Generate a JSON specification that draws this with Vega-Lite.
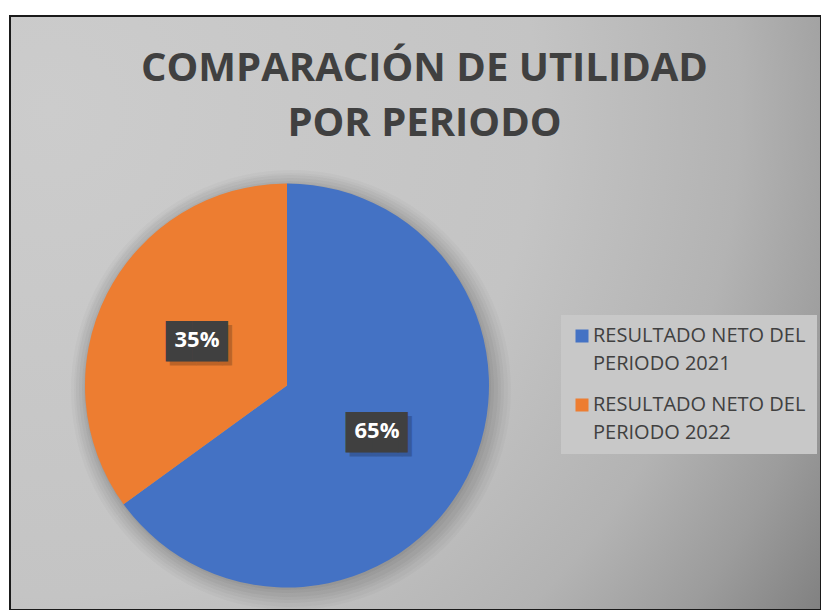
{
  "$schema": "https://vega.github.io/schema/vega-lite/v6.json",
  "width": 811,
  "height": 594,
  "autosize": {"type": "none"},
  "padding": {"left": 10, "top": 16, "right": 0, "bottom": 0},
  "background": "#ffffff",
  "view": {
    "fill": {
      "gradient": "radial",
      "x1": 0.05, "y1": 0.25, "r1": 0,
      "x2": 0.05, "y2": 0.25, "r2": 1.25,
      "stops": [
        {"offset": 0, "color": "#cccccc"},
        {"offset": 0.48, "color": "#c4c4c4"},
        {"offset": 0.68, "color": "#b3b3b3"},
        {"offset": 0.8, "color": "#9c9c9c"},
        {"offset": 0.97, "color": "#707070"}
      ]
    },
    "stroke": "#1a1a1a",
    "strokeWidth": 2
  },
  "title": {
    "text": ["COMPARACIÓN DE UTILIDAD", "POR PERIODO"],
    "orient": "top",
    "anchor": "middle",
    "frame": "group",
    "font": "Open Sans",
    "fontSize": 40,
    "fontWeight": "bold",
    "color": "#404040",
    "lineHeight": 55,
    "baseline": "top",
    "offset": -128,
    "dx": 9
  },
  "data": {
    "values": [
      {"periodo": "RESULTADO NETO DEL PERIODO 2021", "valor": 65, "etiqueta": "65%"},
      {"periodo": "RESULTADO NETO DEL PERIODO 2022", "valor": 35, "etiqueta": "35%"}
    ]
  },
  "encoding": {
    "theta": {"field": "valor", "type": "quantitative", "stack": true},
    "order": {"field": "periodo", "type": "ordinal"}
  },
  "layer": [
    {"mark": {"type": "arc", "outerRadius": 220, "x": 281, "y": 374, "color": "#000000", "opacity": 0.025}},
    {"mark": {"type": "arc", "outerRadius": 217, "x": 281, "y": 374, "color": "#000000", "opacity": 0.025}},
    {"mark": {"type": "arc", "outerRadius": 214, "x": 280, "y": 373, "color": "#000000", "opacity": 0.03}},
    {"mark": {"type": "arc", "outerRadius": 211, "x": 280, "y": 373, "color": "#000000", "opacity": 0.03}},
    {"mark": {"type": "arc", "outerRadius": 208, "x": 280, "y": 373, "color": "#000000", "opacity": 0.035}},
    {"mark": {"type": "arc", "outerRadius": 205, "x": 279, "y": 372, "color": "#000000", "opacity": 0.035}},
    {"mark": {"type": "arc", "outerRadius": 203, "x": 278, "y": 371, "color": "#000000", "opacity": 0.04}},
    {
      "mark": {"type": "arc", "outerRadius": 202, "x": 277, "y": 369.5},
      "encoding": {
        "color": {
          "field": "periodo",
          "type": "nominal",
          "scale": {"range": ["#4472C4", "#ED7D31"]},
          "legend": {
            "title": null,
            "orient": "none",
            "legendX": 551,
            "legendY": 299,
            "fillColor": "#c8c8c8",
            "padding": 11,
            "symbolType": "square",
            "symbolSize": 169,
            "symbolStrokeWidth": 0,
            "labelOffset": 1,
            "labelFont": "Open Sans",
            "labelFontSize": 20,
            "labelColor": "#404040",
            "labelLimit": 300,
            "labelBaseline": "top",
            "rowPadding": 21,
            "labelExpr": "[slice(datum.label, 0, 18), slice(datum.label, 19)]",
            "labelFontWeight": "normal",
            "encode": {
              "labels": {"update": {"lineHeight": {"value": 28}, "dy": {"value": -10}}}
            }
          }
        }
      }
    },
    {
      "mark": {"type": "text", "radius": 101, "x": 277, "y": 369.5, "dx": 12, "dy": 7, "font": "DejaVu Sans", "fontSize": 34, "align": "center", "baseline": "middle", "color": "#000000", "opacity": 0.2, "text": "██▍"}
    },
    {
      "mark": {"type": "text", "radius": 101, "x": 277, "y": 369.5, "dx": 8, "dy": 3, "font": "DejaVu Sans", "fontSize": 34, "align": "center", "baseline": "middle", "color": "#404040", "text": "██▍"}
    },
    {
      "mark": {"type": "text", "radius": 101, "x": 277, "y": 369.5, "font": "Open Sans", "fontSize": 22, "fontWeight": "bold", "align": "center", "baseline": "middle", "color": "#ffffff"},
      "encoding": {"text": {"field": "etiqueta", "type": "nominal"}}
    }
  ]
}
